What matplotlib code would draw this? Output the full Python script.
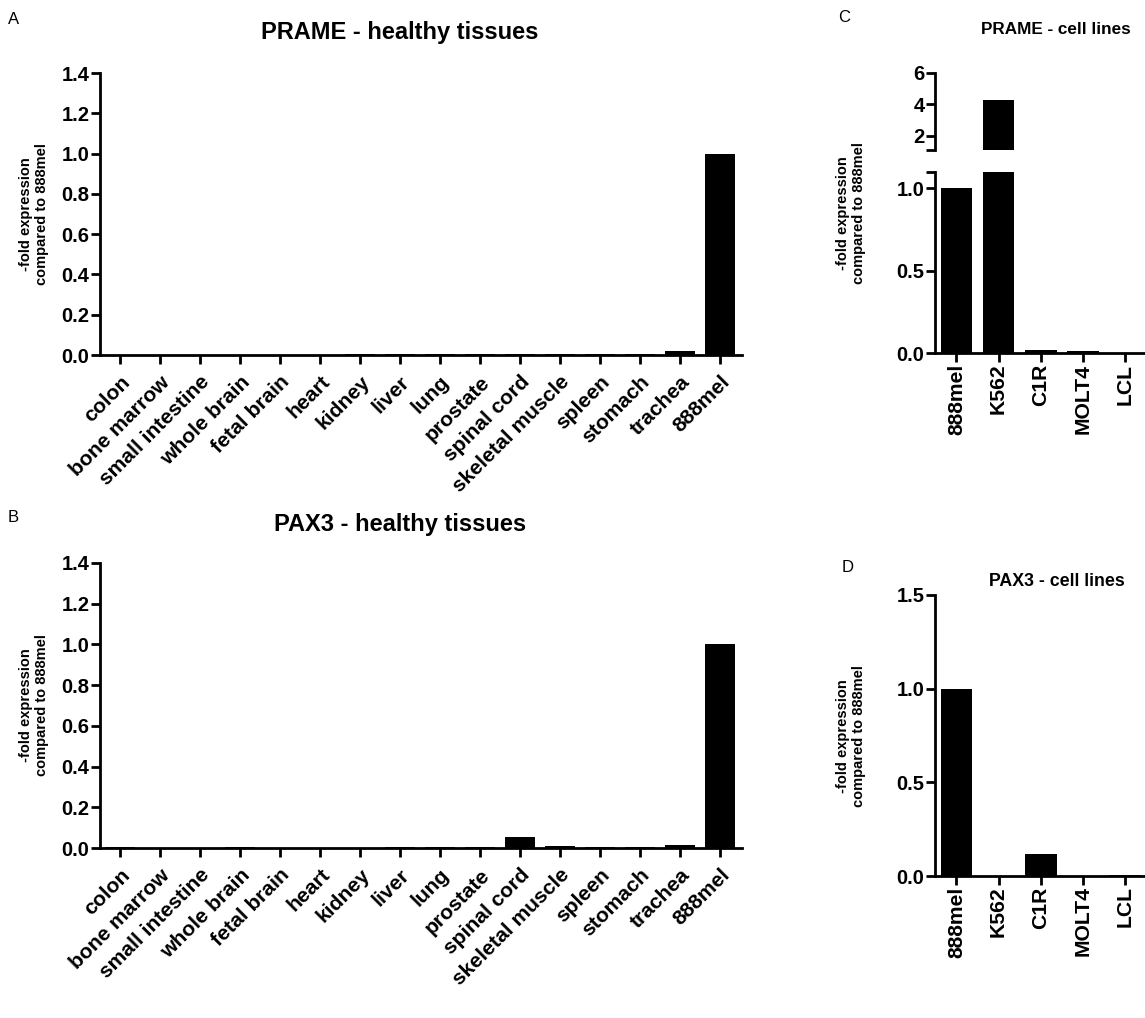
import numpy as np
import matplotlib.pyplot as plt

plt.rcParams['font.family'] = ['Liberation Sans', 'DejaVu Sans']

# Tissue panel data
tissues = ["colon", "bone marrow", "small intestine", "whole brain", "fetal brain", "heart",
           "kidney", "liver", "lung", "prostate", "spinal cord", "skeletal muscle",
           "spleen", "stomach", "trachea", "888mel"]
prame_tissues = [0.001, 0.001, 0.001, 0.001, 0.001, 0.001, 0.005, 0.004, 0.005, 0.005,
                 0.004, 0.004, 0.004, 0.005, 0.02, 1.0]
pax3_tissues = [0.005, 0.001, 0.001, 0.005, 0.001, 0.001, 0.001, 0.004, 0.004, 0.004,
                0.055, 0.012, 0.005, 0.006, 0.015, 1.0]

# Cell line panel data
cell_lines = ["888mel", "K562", "C1R", "MOLT4", "LCL"]
prame_cells = [1.0, 4.3, 0.022, 0.015, 0.003]
pax3_cells = [1.0, 0.0, 0.115, 0.0, 0.005]

ylabel = "-fold expression\ncompared to 888mel"
W, H = 1145, 1018
YTICK_FS = 14.5
XTICK_FS = 15.2
YLAB_FS = 10.5

fig = plt.figure(figsize=(W / 100, H / 100), dpi=100)


def px_axes(left, top, right, bottom):
    return fig.add_axes([left / W, 1 - bottom / H, (right - left) / W, (bottom - top) / H])


def fig_text(x, y, s, **kw):
    return fig.text(x / W, 1 - y / H, s, **kw)


def style(ax):
    for s in ["top", "right"]:
        ax.spines[s].set_visible(False)
    for s in ["left", "bottom"]:
        ax.spines[s].set_linewidth(2)
    ax.tick_params(width=2, length=6.5, pad=1)
    ax.tick_params(axis="y", labelsize=YTICK_FS)
    ax.tick_params(axis="x", labelsize=XTICK_FS)
    for lab in ax.get_xticklabels() + ax.get_yticklabels():
        lab.set_fontweight("bold")


def tissue_panel(top, bottom, values, title, title_y, letter, letter_y):
    ax = px_axes(100, top, 742, bottom)
    x = np.arange(len(tissues))
    ax.bar(x, values, width=0.75, color="black")
    ax.set_xlim(-0.5, 15.55)
    ax.set_ylim(0, 1.4)
    yt = np.arange(0, 1.41, 0.2)
    ax.set_yticks(yt)
    ax.set_yticklabels([f"{v:.1f}" for v in yt])
    ax.set_xticks(x)
    ax.set_xticklabels(tissues, rotation=45, ha="right", va="top", rotation_mode="anchor")
    style(ax)
    ax.tick_params(axis="x", pad=6)
    fig_text(34, (top + bottom) / 2, ylabel, rotation=90, ha="center", va="center",
             fontsize=YLAB_FS, fontweight="bold")
    fig_text(400, title_y, title, ha="center", va="center", fontsize=17, fontweight="bold")
    fig_text(8, letter_y, letter, ha="left", va="center", fontsize=12)
    return ax


tissue_panel(73, 355, prame_tissues, "PRAME - healthy tissues", 32, "A", 20)
tissue_panel(563, 848, pax3_tissues, "PAX3 - healthy tissues", 524, "B", 517)

xc = np.arange(len(cell_lines))
cx0, cx1 = 935, 1146

# Panel C: broken y axis
ax_lo = px_axes(cx0, 171.7, cx1, 353.3)
ax_hi = px_axes(cx0, 72.7, cx1, 150)
for ax in (ax_lo, ax_hi):
    ax.bar(xc, prame_cells, width=0.75, color="black")
    ax.set_xlim(-0.51, 4.5)
ax_lo.set_ylim(0, 1.1)
ax_lo.set_yticks([0, 0.5, 1.0])
ax_lo.set_yticklabels(["0.0", "0.5", "1.0"])
ax_lo.set_xticks(xc)
ax_lo.set_xticklabels(cell_lines, rotation=90)
ax_hi.set_ylim(1.1, 6)
ax_hi.set_yticks([2, 4, 6])
ax_hi.set_yticklabels(["2", "4", "6"])
ax_hi.set_xticks([])
style(ax_lo)
style(ax_hi)
ax_hi.spines["bottom"].set_visible(False)
# caps at the break
for ax in (ax_lo, ax_hi):
    ax.plot([-0.045, 0.0], [1.1, 1.1], transform=ax.get_yaxis_transform(),
            color="black", lw=2, clip_on=False, solid_capstyle="butt")
fig_text(851, 213, ylabel, rotation=90, ha="center", va="center",
         fontsize=YLAB_FS, fontweight="bold")
fig_text(1056, 30, "PRAME - cell lines", ha="center", va="center",
         fontsize=12.3, fontweight="bold")
fig_text(838, 18, "C", ha="left", va="center", fontsize=12)

# Panel D
ax_d = px_axes(cx0, 595, cx1, 876)
ax_d.bar(xc, pax3_cells, width=0.75, color="black")
ax_d.set_xlim(-0.51, 4.5)
ax_d.set_ylim(0, 1.5)
ax_d.set_yticks([0, 0.5, 1.0, 1.5])
ax_d.set_yticklabels(["0.0", "0.5", "1.0", "1.5"])
ax_d.set_xticks(xc)
ax_d.set_xticklabels(cell_lines, rotation=90)
style(ax_d)
fig_text(851, 736, ylabel, rotation=90, ha="center", va="center",
         fontsize=YLAB_FS, fontweight="bold")
fig_text(1057, 582, "PAX3 - cell lines", ha="center", va="center",
         fontsize=12.8, fontweight="bold")
fig_text(842, 567, "D", ha="left", va="center", fontsize=12)

fig.savefig("out.png", dpi=100)
